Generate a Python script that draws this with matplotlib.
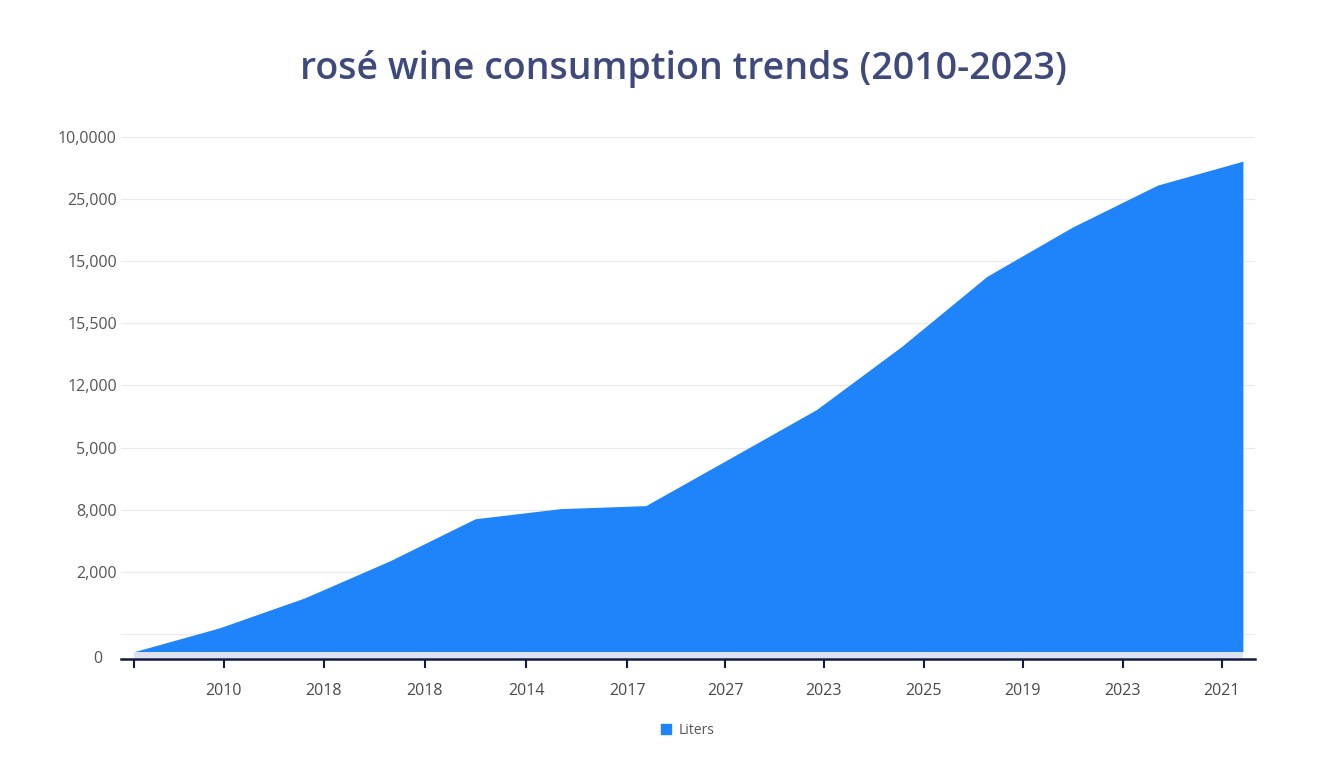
import matplotlib
matplotlib.use("Agg")
import matplotlib.pyplot as plt
from matplotlib.patches import Patch

# data (liters)
years = [2010, 2011, 2012, 2013, 2014, 2015, 2016,
         2017, 2018, 2019, 2020, 2021, 2022, 2023]
liters = [0, 1340, 3030, 5120, 7490, 8060, 8230,
          10930, 13640, 17200, 21150, 23920, 26290, 27640]

# tick labels exactly as printed in the reference
ytick_vals = [1000, 4500, 8000, 11500, 15000, 18500, 22000, 25500, 29000]
ytick_labels = ['', '2,000', '8,000', '5,000', '12,000', '15,500',
                '15,000', '25,000', '10,0000']
xtick_vals = [2010.0, 2011.055, 2012.227, 2013.411, 2014.596, 2015.78,
              2016.929, 2018.089, 2019.261, 2020.422, 2021.594, 2022.755]
xtick_labels = ['', '2010', '2018', '2018', '2014', '2017',
                '2027', '2023', '2025', '2019', '2023', '2021']

title = 'rosé wine consumption trends (2010-2023)'
blue = '#1f83fa'
navy = '#121b3d'

plt.rcParams['font.family'] = ['Open Sans', 'DejaVu Sans']

fig = plt.figure(figsize=(13.44, 7.68), dpi=100)
W, H = 1344.0, 768.0
ax = fig.add_axes([121 / W, 1 - 659 / H, (1255 - 121) / W, (659 - 130) / H])

ax.fill_between(years, 0, liters, color=blue, lw=0, zorder=2)
# pale strip under the area
ax.fill_between(years, -330, 0, color='#dde3f5', lw=0, zorder=2)

ax.set_xlim(2009.848, 2023.142)
ax.set_ylim(-412, 29395)

ax.set_yticks(ytick_vals)
ax.set_yticklabels(ytick_labels)
ax.set_xticks(xtick_vals)
ax.set_xticklabels(xtick_labels)

ax.yaxis.grid(True, color='#ebebeb', lw=0.9, zorder=0)
ax.xaxis.grid(False)
ax.tick_params(axis='y', length=0, pad=3, labelsize=11.5, labelcolor='#555555')
ax.tick_params(axis='x', length=6.5, width=1.5, color=navy, pad=10.5,
               labelsize=11.5, labelcolor='#4a4a4a')

for side in ['top', 'right', 'left']:
    ax.spines[side].set_visible(False)
ax.spines['bottom'].set_color(navy)
ax.spines['bottom'].set_linewidth(1.8)
ax.spines['bottom'].set_zorder(3)

# zero label sits a bit further left at the axis line
ax.annotate('0', xy=(0, -412), xycoords=('axes fraction', 'data'),
            xytext=(-19, 0), textcoords='offset pixels',
            ha='right', va='center', fontsize=11.5, color='#555555')

fig.text(683 / W, 1 - 69 / H, title, ha='center', va='center',
         fontsize=27, fontweight='semibold', color='#3e4a7c')

fig.legend(handles=[Patch(color=blue, label='Liters')], loc='center',
           bbox_to_anchor=(688 / W, 1 - 730 / H), frameon=False,
           fontsize=10, handlelength=0.7, handleheight=0.7,
           handletextpad=0.6, labelcolor='#555555')

fig.savefig('out.png', dpi=100, facecolor='white')
